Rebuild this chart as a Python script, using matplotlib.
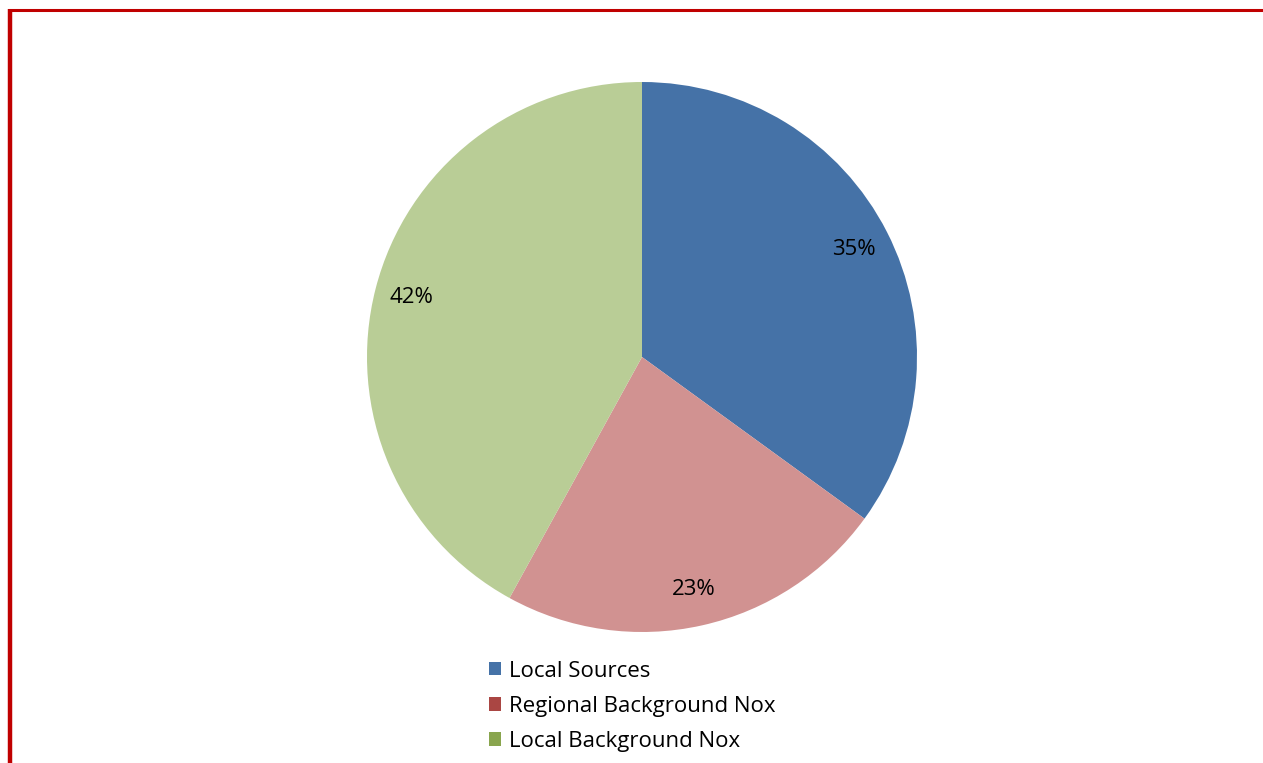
import matplotlib
matplotlib.use('Agg')
import matplotlib.pyplot as plt
from matplotlib.patches import Patch
from matplotlib.lines import Line2D

labels = ['Local Sources', 'Regional Background Nox', 'Local Background Nox']
values = [35, 23, 42]
slice_colors = ['#4572A7', '#D19291', '#B9CD96']
legend_colors = ['#4572A7', '#AA4643', '#89A54E']

plt.rcParams['font.family'] = ['Open Sans', 'DejaVu Sans']

W, H = 1263, 763
fig = plt.figure(figsize=(W / 100, H / 100), dpi=100)
fig.patch.set_facecolor('white')

cx, cy, r = 642, 357, 275
ax = fig.add_axes([(cx - r) / W, (H - cy - r) / H, 2 * r / W, 2 * r / H])
wedges, texts, autotexts = ax.pie(values, colors=slice_colors, startangle=90, counterclock=False,
                                  autopct='%d%%', pctdistance=0.865, radius=1,
                                  wedgeprops=dict(linewidth=0),
                                  textprops=dict(fontsize=16, color='black'))
ax.set_xlim(-1, 1)
ax.set_ylim(-1, 1)
ax.set_aspect('auto')
ax.axis('off')

handles = [Patch(facecolor=c, edgecolor='none') for c in legend_colors]
fig.legend(handles, labels, loc='upper left', bbox_to_anchor=(473 / W, 1 - 645 / H),
           frameon=False, fontsize=16, handlelength=0.55, handleheight=0.55,
           handletextpad=0.35, labelspacing=0.64, borderpad=0.2)

# red frame around the chart area
fig.add_artist(Line2D([9.5 / W, 9.5 / W], [0, 1 - 9 / H], color='#C00000', linewidth=3.2,
                      transform=fig.transFigure, solid_capstyle='butt'))
fig.add_artist(Line2D([8 / W, 1], [1 - 10 / H, 1 - 10 / H], color='#C00000', linewidth=2.2,
                      transform=fig.transFigure, solid_capstyle='butt'))

fig.savefig('out.png', dpi=100, facecolor='white')
